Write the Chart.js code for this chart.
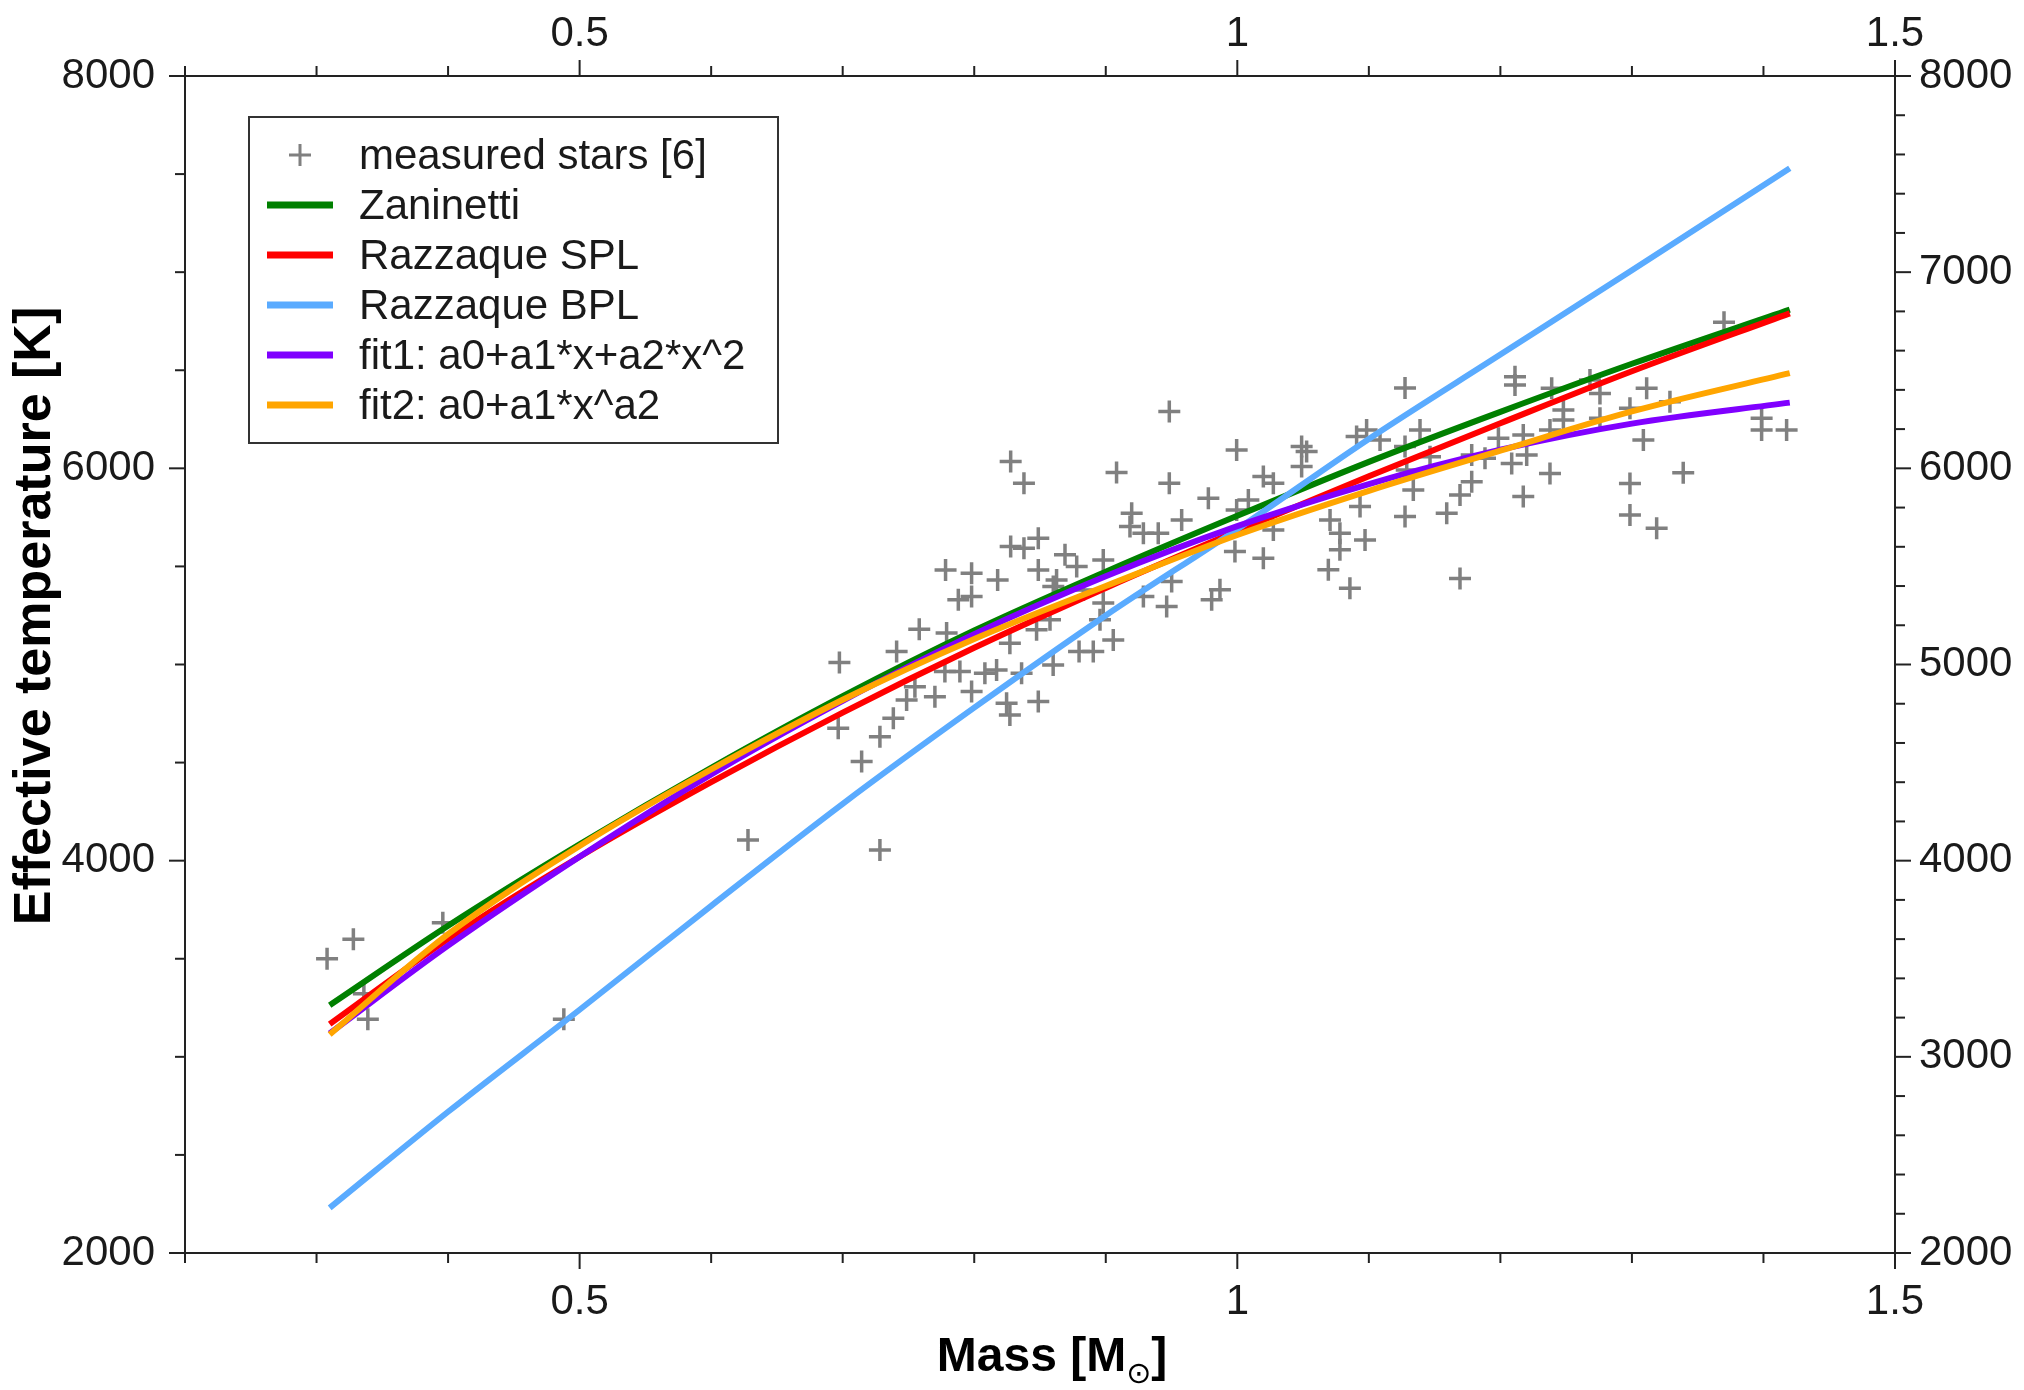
<!DOCTYPE html>
<html>
<head>
<meta charset="utf-8">
<title>Mass - effective temperature</title>
<script src="https://cdn.jsdelivr.net/npm/chart.js@4.4.1/dist/chart.umd.min.js"></script>
<style>
  html, body { margin: 0; padding: 0; background: #fff; }
  #wrap { width: 2024px; height: 1390px; }
</style>
</head>
<body>
<div id="wrap"><canvas id="myChart" width="2024" height="1390"></canvas></div>
<script>
// measured stars: mass [Msun] and Teff [K]
var starMass = [
  0.308, 0.328, 0.336, 0.339, 0.396, 0.488, 0.628,
  0.6975, 0.741, 0.8271, 0.8797, 0.8905, 0.9057,
  0.7777, 0.7891, 0.8081, 0.817, 0.836, 0.86,
  0.7549, 0.7701, 0.798, 0.7486, 0.8246, 0.8487,
  0.8271, 0.7385, 0.6966, 0.7283, 0.7144, 0.7283,
  0.8277, 0.8378, 0.9082,
  0.8277, 0.8378, 0.8487, 0.8487, 0.869, 0.8779, 0.8981,
  0.7782, 0.798, 0.8178, 0.8626, 0.8601, 0.7879, 0.798,
  0.883, 0.8981, 0.8956, 0.7582, 0.779, 0.8474, 0.8576,
  0.9483, 1.1275, 0.9995, 1.0489, 1.0527, 1.0489, 1.0983, 1.0907, 1.1085,
  0.9483, 1.0198, 1.0274, 0.978, 1.0084, 0.9995, 1.1275, 1.1338, 1.0933,
  0.9197, 0.9184, 0.9286, 0.9399, 0.9577, 1.0274, 1.0705, 1.078, 1.0971, 1.1275,
  0.9982, 1.0198, 1.078, 1.0692, 1.0856, 0.9805, 0.9868, 0.9501, 0.9286, 0.9463,
  1.2111, 1.2111, 1.239, 1.2681, 1.2757, 1.3112, 1.3289, 1.2985, 1.2479, 1.2479, 1.2757,
  1.1389, 1.1985, 1.2174, 1.2377, 1.3087, 1.3986, 1.3986, 1.4176,
  1.1465, 1.1782, 1.1883, 1.2086, 1.22, 1.1288, 1.1782, 1.1693,
  1.1592, 1.2174, 1.2377, 1.2985, 1.339, 1.2985, 1.3188, 1.1693,
  1.37
];
var starTeff = [
  3500, 3599, 3322, 3191, 3684, 3191, 4105,
  5010, 5066, 5108, 5066, 5066, 5125,
  4964, 4964, 4955, 4972, 4955, 4998,
  4887, 4836, 4862, 4819, 4802, 4811,
  4743, 4726, 4675, 4632, 4505, 4055,
  6035, 5924, 5979,
  5601, 5593, 5644, 5482, 5559, 5499, 5533,
  5482, 5465, 5431, 5431, 5397, 5330, 5347,
  5380, 5313, 5228, 5180, 5160, 5177, 5228,
  6290, 6409, 6094, 6111, 6086, 6009, 6196, 6162, 6145,
  5924, 5958, 5924, 5848, 5839, 5788, 6111, 5890, 5805,
  5771, 5703, 5669, 5669, 5737, 5686, 5737, 5669, 5635, 5754,
  5576, 5542, 5585, 5483, 5389, 5330, 5381, 5423, 5347, 5296,
  6467, 6425, 6408, 6450, 6382, 6408, 6340, 6306, 6297, 6246, 6255,
  6195, 6153, 6170, 6195, 6144, 6255, 6195, 6195,
  6059, 6068, 6051, 6025, 6068, 5991, 5932, 5864,
  5771, 5856, 5974, 5923, 5978, 5762, 5694, 5439,
  6745
];

// model curves, sampled at these masses
var curveMass   = [0.31, 0.4, 0.5, 0.6, 0.7, 0.8, 0.9, 1.0, 1.1, 1.2, 1.3, 1.42];
var zaninetti   = [3263, 3668, 4083, 4473, 4838, 5173, 5473, 5758, 6033, 6288, 6533, 6809];
var razzSPL     = [3167, 3600, 4020, 4400, 4755, 5085, 5390, 5680, 5960, 6230, 6495, 6790];
var razzBPL     = [2230, 2720, 3240, 3770, 4290, 4780, 5250, 5690, 6150, 6580, 7010, 7530];
var fit1        = [3120, 3567, 4020, 4440, 4815, 5155, 5450, 5705, 5920, 6095, 6228, 6335];
var fit2        = [3114, 3625, 4075, 4465, 4820, 5130, 5400, 5660, 5885, 6090, 6290, 6485];

var xMin = 0.2, xMax = 1.5;
var yMin = 2000, yMax = 8000;

var axisColor = '#222222';
var textColor = '#1a1a1a';
var fontFamily = '"Liberation Sans", Arial, sans-serif';
var tickFont = { family: fontFamily, size: 42 };

function toXY(xs, ys) {
    var out = [];
    for (var i = 0; i < xs.length; i++) {
        out.push({ x: xs[i], y: ys[i] });
    }
    return out;
}

function isMultiple(v, step) {
    var r = v / step;
    return Math.abs(r - Math.round(r)) < 1e-6;
}

function curve(label, color, values, order) {
    return {
        label: label,
        data: toXY(curveMass, values),
        showLine: true,
        borderColor: color,
        backgroundColor: color,
        borderWidth: 6,
        pointRadius: 0,
        cubicInterpolationMode: 'monotone',
        order: order
    };
}

// outward tick marks, long ones where the labels are
var tickMarks = {
    id: 'tickMarks',
    afterDraw: function(chart) {
        var ctx = chart.ctx;
        var majorStep = { x: 0.5, x2: 0.5, y: 2000, y2: 1000 };
        ctx.save();
        ctx.strokeStyle = axisColor;
        ctx.lineWidth = 2;
        ['x', 'x2', 'y', 'y2'].forEach(function(id) {
            var s = chart.scales[id];
            s.ticks.forEach(function(t) {
                var len = isMultiple(t.value, majorStep[id]) ? 16 : 10;
                var p = s.getPixelForValue(t.value);
                ctx.beginPath();
                if (id === 'x') { ctx.moveTo(p, s.top); ctx.lineTo(p, s.top + len); }
                if (id === 'x2') { ctx.moveTo(p, s.bottom); ctx.lineTo(p, s.bottom - len); }
                if (id === 'y') { ctx.moveTo(s.right, p); ctx.lineTo(s.right - len, p); }
                if (id === 'y2') { ctx.moveTo(s.left, p); ctx.lineTo(s.left + len, p); }
                ctx.stroke();
            });
        });
        ctx.restore();
    }
};

// axis titles (x title needs the small sun symbol)
var axisTitles = {
    id: 'axisTitles',
    afterDraw: function(chart) {
        var ctx = chart.ctx;
        ctx.save();
        ctx.fillStyle = '#000';
        ctx.textBaseline = 'alphabetic';

        // y title
        ctx.save();
        ctx.font = 'bold 52px ' + fontFamily;
        ctx.translate(50, 616);
        ctx.rotate(-Math.PI / 2);
        ctx.textAlign = 'center';
        ctx.fillText('Effective temperature [K]', 0, 0);
        ctx.restore();

        // x title
        var a = 'Mass [M', sub = '\u2299', b = ']';
        ctx.textAlign = 'left';
        ctx.font = 'bold 48px ' + fontFamily;
        var wa = ctx.measureText(a).width;
        var wb = ctx.measureText(b).width;
        ctx.font = '30px "DejaVu Sans", sans-serif';
        var ws = ctx.measureText(sub).width;
        var total = wa + ws + wb;
        var x0 = 1052 - total / 2, base = 1371;
        ctx.font = 'bold 48px ' + fontFamily;
        ctx.fillText(a, x0, base);
        ctx.font = '30px "DejaVu Sans", sans-serif';
        ctx.fillText(sub, x0 + wa, base + 12);
        ctx.font = 'bold 48px ' + fontFamily;
        ctx.fillText(b, x0 + wa + ws, base);
        ctx.restore();
    }
};

// boxed legend inside the plot, top left
var boxLegend = {
    id: 'boxLegend',
    afterDraw: function(chart) {
        var ctx = chart.ctx;
        var sets = chart.data.datasets;
        ctx.save();
        ctx.fillStyle = '#fff';
        ctx.fillRect(249, 117, 529, 326);
        ctx.strokeStyle = '#333';
        ctx.lineWidth = 2;
        ctx.strokeRect(249, 117, 529, 326);
        ctx.font = '42px ' + fontFamily;
        ctx.textBaseline = 'middle';
        ctx.textAlign = 'left';
        for (var i = 0; i < sets.length; i++) {
            var ds = sets[i];
            var y = 155 + i * 50;
            if (ds.showLine) {
                ctx.strokeStyle = ds.borderColor;
                ctx.lineWidth = 7;
                ctx.beginPath();
                ctx.moveTo(267, y);
                ctx.lineTo(333, y);
                ctx.stroke();
            } else {
                ctx.strokeStyle = ds.pointBorderColor;
                ctx.lineWidth = 3;
                ctx.beginPath();
                ctx.moveTo(289, y); ctx.lineTo(311, y);
                ctx.moveTo(300, y - 11); ctx.lineTo(300, y + 11);
                ctx.stroke();
            }
            ctx.fillStyle = textColor;
            ctx.fillText(ds.label, 359, y + 2);
        }
        ctx.restore();
    }
};

function axisBase(position, min, max, step, labelStep, padding, size) {
    return {
        type: 'linear',
        position: position,
        min: min,
        max: max,
        grid: { display: false, drawTicks: false },
        border: { display: true, color: axisColor, width: 2 },
        ticks: {
            stepSize: step,
            autoSkip: false,
            maxRotation: 0,
            padding: padding,
            color: textColor,
            font: tickFont,
            callback: function(v) {
                if (!isMultiple(v, labelStep)) return '';
                return String(Math.round(v * 10) / 10);
            }
        },
        afterFit: function(s) {
            if (position === 'left' || position === 'right') s.width = size;
            else s.height = size;
        }
    };
}

var ctx = document.getElementById('myChart').getContext('2d');
var chartInstance = new Chart(ctx, {
    type: 'scatter',
    data: {
        datasets: [
            {
                label: 'measured stars [6]',
                data: toXY(starMass, starTeff),
                showLine: false,
                pointStyle: 'cross',
                pointRadius: 11,
                pointBorderWidth: 3.5,
                pointBorderColor: '#808080',
                pointBackgroundColor: '#808080',
                order: 10
            },
            curve('Zaninetti', '#008000', zaninetti, 6),
            curve('Razzaque SPL', '#ff0000', razzSPL, 5),
            curve('Razzaque BPL', '#5aabff', razzBPL, 4),
            curve('fit1: a0+a1*x+a2*x^2', '#8000ff', fit1, 3),
            curve('fit2: a0+a1*x^a2', '#ffa500', fit2, 2)
        ]
    },
    options: {
        responsive: false,
        animation: false,
        events: [],
        layout: { padding: 0 },
        plugins: {
            legend: { display: false },
            tooltip: { enabled: false },
            title: { display: false }
        },
        scales: {
            x: axisBase('bottom', xMin, xMax, 0.1, 0.5, 24, 137),
            x2: axisBase('top', xMin, xMax, 0.1, 0.5, 16, 76),
            y: axisBase('left', yMin, yMax, 500, 2000, 30, 185),
            y2: axisBase('right', yMin, yMax, 200, 1000, 24, 129)
        }
    },
    plugins: [tickMarks, axisTitles, boxLegend]
});
</script>
</body>
</html>
